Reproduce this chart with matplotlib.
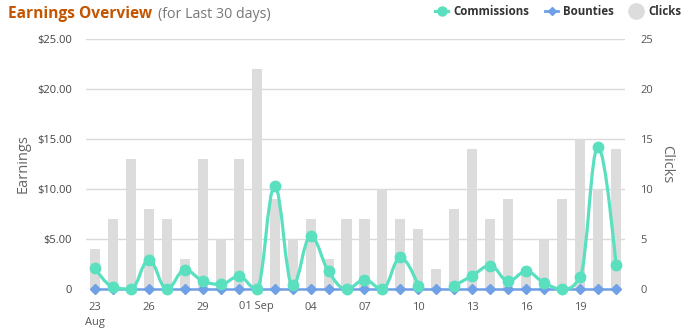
import numpy as np
import matplotlib
matplotlib.use('Agg')
import matplotlib.pyplot as plt
from matplotlib.path import Path
from matplotlib.patches import PathPatch
from matplotlib.lines import Line2D

plt.rcParams['font.family'] = ['Open Sans', 'DejaVu Sans']

# data (23 Aug .. 21 Sep)
tick_pos = [0, 3, 6, 9, 12, 15, 18, 21, 24, 27]
tick_labels = ['23\nAug', '26', '29', '01 Sep', '04', '07', '10', '13', '16', '19']
commissions = [2.06, 0.2, 0.0, 2.9, 0.0, 1.9, 0.8, 0.47, 1.25,
               0.0, 10.25, 0.35, 5.25, 1.75, 0.0, 0.9, 0.0, 3.15, 0.33, None,
               0.33, 1.33, 2.33, 0.8, 1.75, 0.6, 0.0, 1.2, 14.2, 2.4]
bounties = [0, 0, 0, 0, 0, 0, 0, 0, 0, 0, 0, 0, 0, 0, 0,
            0, 0, 0, 0, 0, 0, 0, 0, 0, 0, 0, 0, 0, 0, 0]
clicks = [4, 7, 13, 8, 7, 3, 13, 5, 13, 22, 9, 5, 7, 3, 7,
          7, 10, 7, 6, 2, 8, 14, 7, 9, 2, 5, 9, 15, 10, 14]

green = '#5ae0bf'
blue = '#6fa0e6'
grey_bar = '#dcdcdc'
grid_c = '#d9d9d9'
lab_c = '#555555'


def spline_verts(px, py):
    # highcharts style spline, worked out in pixel space
    n = len(px)
    sm, den = 1.5, 2.5
    lc = [(px[i], py[i]) for i in range(n)]
    rc = list(lc)
    for i in range(1, n - 1):
        x, y = px[i], py[i]
        lx, ly = px[i - 1], py[i - 1]
        nx, ny = px[i + 1], py[i + 1]
        lcx = (sm * x + lx) / den
        lcy = (sm * y + ly) / den
        rcx = (sm * x + nx) / den
        rcy = (sm * y + ny) / den
        corr = 0
        if rcx != lcx:
            corr = ((rcy - lcy) * (rcx - x)) / (rcx - lcx) + y - rcy
        lcy += corr
        rcy += corr
        if lcy > ly and lcy > y:
            lcy = max(ly, y); rcy = 2 * y - lcy
        elif lcy < ly and lcy < y:
            lcy = min(ly, y); rcy = 2 * y - lcy
        if rcy > ny and rcy > y:
            rcy = max(ny, y); lcy = 2 * y - rcy
        elif rcy < ny and rcy < y:
            rcy = min(ny, y); lcy = 2 * y - rcy
        lc[i] = (lcx, lcy)
        rc[i] = (rcx, rcy)
    verts = [(px[0], py[0])]
    codes = [Path.MOVETO]
    for i in range(1, n):
        verts += [rc[i - 1], lc[i], (px[i], py[i])]
        codes += [Path.CURVE4] * 3
    return verts, codes


fig = plt.figure(figsize=(6.88, 3.32), dpi=100)
ax2 = fig.add_axes([86 / 688, 43 / 332, 539 / 688, 250.5 / 332])
ax = ax2.twinx()
ax.set_zorder(ax2.get_zorder() + 1)
ax.patch.set_visible(False)

x = np.arange(len(clicks))

# clicks bars (right axis)
ax2.bar(x, clicks, width=0.56, color=grey_bar, zorder=2)
ax2.set_ylim(0, 25)
ax2.set_xlim(-0.5, len(clicks) - 0.5)
ax2.set_yticks([0, 5, 10, 15, 20, 25])
ax2.grid(axis='y', color=grid_c, lw=1, zorder=0)
ax2.set_axisbelow(True)
ax2.yaxis.tick_right()
ax2.yaxis.set_label_position('right')
ax2.tick_params(axis='y', length=0, pad=11, labelsize=8, labelcolor=lab_c)
ax2.set_ylabel('Clicks', rotation=270, fontsize=10.5, color='#666666', labelpad=15)
ax2.set_xticks(tick_pos)
ax2.set_xticklabels(tick_labels, linespacing=1.5)
ax2.tick_params(axis='x', length=0, pad=9, labelsize=8, labelcolor=lab_c)
for s in ax2.spines.values():
    s.set_visible(False)

# earnings (left axis)
ax.set_ylim(0, 25)
ax.set_xlim(-0.5, len(clicks) - 0.5)
ax.yaxis.tick_left()
ax.yaxis.set_label_position('left')
ax.set_yticks([0, 5, 10, 15, 20, 25])
ax.set_yticklabels(['0', '$5.00', '$10.00', '$15.00', '$20.00', '$25.00'])
ax.tick_params(axis='y', length=0, pad=10, labelsize=8, labelcolor='#444444')
ax.set_ylabel('Earnings', fontsize=10.5, color='#666666', labelpad=5)
for s in ax.spines.values():
    s.set_visible(False)

# bounties line
ax.plot(x, bounties, color=blue, lw=1.8, marker='D', ms=5, clip_on=False, zorder=3)

# commissions spline, split at missing values
inv = ax.transData.inverted()
seg = []
segs = []
for i, v in enumerate(commissions):
    if v is None:
        if seg:
            segs.append(seg)
        seg = []
    else:
        seg.append((i, v))
if seg:
    segs.append(seg)
for sg in segs:
    pts = ax.transData.transform(np.array(sg, dtype=float))
    if len(sg) > 1:
        verts, codes = spline_verts(pts[:, 0], pts[:, 1])
        verts = inv.transform(np.array(verts))
        ax.add_patch(PathPatch(Path(verts, codes), fill=False, edgecolor=green,
                               lw=2.3, zorder=4, clip_on=False))
    sx = [p[0] for p in sg]
    sy = [p[1] for p in sg]
    ax.plot(sx, sy, ls='none', marker='o', ms=7.5, color=green, zorder=5, clip_on=False)

# title
t1 = fig.text(8 / 688, 1 - 18 / 332, 'Earnings Overview', fontsize=11.2, fontweight='bold',
              color='#c45500', va='baseline')
ax.annotate('(for Last 30 days)', xy=(1, 0), xycoords=t1, xytext=(4, 0),
            textcoords='offset points', fontsize=10.3, color='#777777', va='bottom',
            annotation_clip=False)

# legend
handles = [Line2D([], [], color=green, lw=2.3, marker='o', ms=6.5),
           Line2D([], [], color=blue, lw=2, marker='D', ms=4.5),
           Line2D([], [], ls='none', marker='o', ms=11, color=grey_bar)]
leg = fig.legend(handles, ['Commissions', 'Bounties', 'Clicks'], loc='upper right',
                 bbox_to_anchor=(1.005, 1.015), ncol=3, frameon=False,
                 handlelength=1.1, handletextpad=0.45, columnspacing=1.4,
                 prop=dict(size=8.3, weight='bold'))
for tx in leg.get_texts():
    tx.set_color('#333333')

fig.savefig('out.png', dpi=100)
